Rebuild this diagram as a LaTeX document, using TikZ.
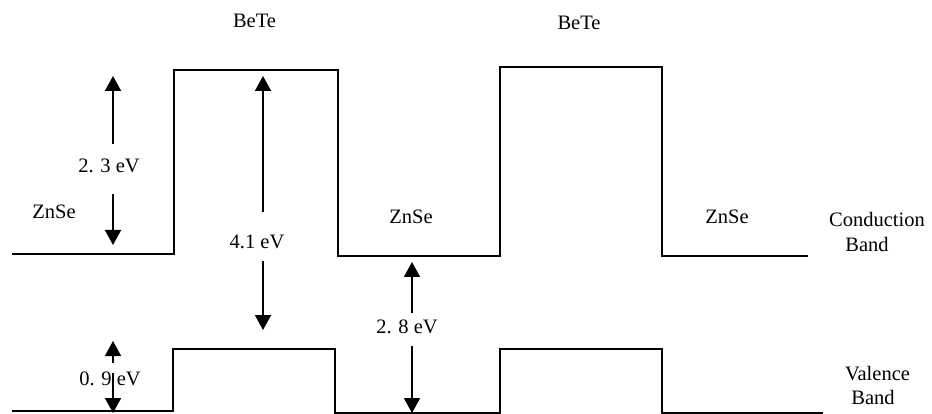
\documentclass[tikz,border=0pt]{standalone}
\usepackage{fontspec}
\setmainfont{Liberation Serif}
\usetikzlibrary{arrows.meta}
\tikzset{
  band/.style={line width=1.8pt, line cap=rect},
  gap/.style={line width=1.6pt, -{Triangle[width=16pt,length=15pt]}},
  lab/.style={anchor=base, inner sep=0pt, font=\fontsize{20.5}{24}\selectfont}
}
\begin{document}
\begin{tikzpicture}[x=1pt,y=-1pt]
\useasboundingbox (0,0) rectangle (932,414);
% conduction band
\draw[band] (13,254) -- (174,254) -- (174,70) -- (336,70);
\draw[band] (338,70) -- (338,256) -- (500,256) -- (500,67) -- (660,67);
\draw[band] (662,67) -- (662,256) -- (807,256);
% valence band
\draw[band] (13,411) -- (173,411) -- (173,349) -- (335,349) -- (335,414);
\draw[band] (337,413) -- (500,413) -- (500,349) -- (660,349);
\draw[band] (662,349) -- (662,413) -- (822,413);
% labels
\node[lab] (bete1) at (254.5,28) {BeTe};
\node[lab] (bete2) at (579,30) {BeTe};
\node[lab] (zn1) at (54,219) {ZnSe};
\node[lab] (zn2) at (411,224) {ZnSe};
\node[lab] (zn3) at (727,224) {ZnSe};
\node[lab] (cond) at (877,227) {Conduction};
\node[lab] (cband) at (867,252) {Band};
\node[lab] (val) at (877.5,380) {Valence};
\node[lab] (vband) at (873,404) {Band};
\node[lab] (e23) at (109,173) {2. 3 eV};
\node[lab] (e41) at (257,248) {4.1 eV};
\node[lab] (e28) at (407,333) {2. 8 eV};
\node[lab] (e09) at (110,385) {0. 9 eV};
% arrow endpoints
\coordinate (a23s) at (113,144); \coordinate (a23t) at (113,76);
\coordinate (b23s) at (113,194); \coordinate (b23t) at (113,245);
\coordinate (a41s) at (263,212); \coordinate (a41t) at (263,76);
\coordinate (b41s) at (263,261); \coordinate (b41t) at (263,330);
\coordinate (a28s) at (412,313); \coordinate (a28t) at (412,262);
\coordinate (b28s) at (412,346); \coordinate (b28t) at (412,413);
\coordinate (a09s) at (113,363); \coordinate (a09t) at (113,341);
\coordinate (b09s) at (113,373); \coordinate (b09t) at (113,413);
\draw[gap] (a23s) -- (a23t);
\draw[gap] (b23s) -- (b23t);
\draw[gap] (a41s) -- (a41t);
\draw[gap] (b41s) -- (b41t);
\draw[gap] (a28s) -- (a28t);
\draw[gap] (b28s) -- (b28t);
\draw[gap] (a09s) -- (a09t);
\draw[gap] (b09s) -- (b09t);
\end{tikzpicture}
\end{document}
